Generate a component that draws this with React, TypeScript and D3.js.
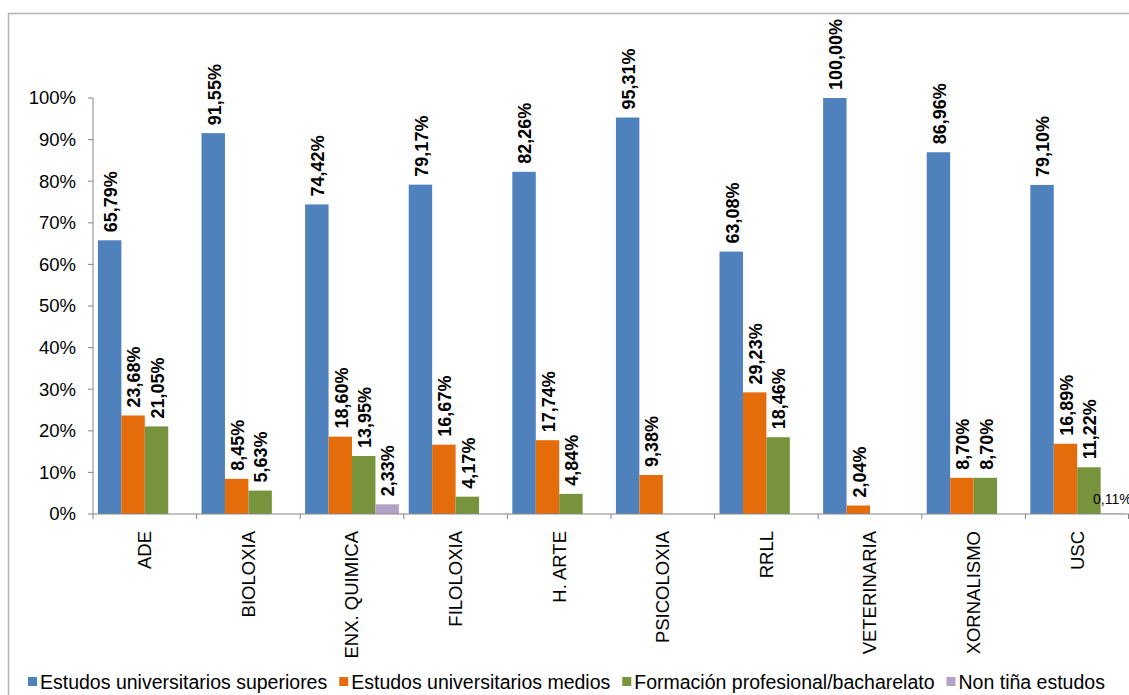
import React, { useEffect, useRef } from "react";
import * as d3 from "d3";

const categories = ["ADE", "BIOLOXIA", "ENX. QUIMICA", "FILOLOXIA", "H. ARTE", "PSICOLOXIA", "RRLL", "VETERINARIA", "XORNALISMO", "USC"];
const seriesNames = ["Estudos universitarios superiores", "Estudos universitarios medios", "Formación profesional/bacharelato", "Non tiña estudos"];
const superiores = [65.79, 91.55, 74.42, 79.17, 82.26, 95.31, 63.08, 100.0, 86.96, 79.1];
const medios = [23.68, 8.45, 18.6, 16.67, 17.74, 9.38, 29.23, 2.04, 8.7, 16.89];
const formacion = [21.05, 5.63, 13.95, 4.17, 4.84, 0, 18.46, 0, 8.7, 11.22];
const nonEstudos = [0, 0, 2.33, 0, 0, 0, 0, 0, 0, 0.11];
const yTicks = [0, 10, 20, 30, 40, 50, 60, 70, 80, 90, 100];
const colors = ["#4F81BD", "#E46C0A", "#77933C", "#B3A2C7"];

const W = 1129, H = 695;
const FONT = "'Liberation Sans', Arial, sans-serif";

export default function App() {
  const ref = useRef<SVGSVGElement>(null);
  useEffect(() => {
    const svg = d3.select(ref.current);
    svg.selectAll("*").remove();
    const series = [superiores, medios, formacion, nonEstudos];

    svg.append("rect").attr("x", 8.5).attr("y", 13.5).attr("width", 1200).attr("height", 800)
      .attr("fill", "white").attr("stroke", "#B5B5B5").attr("stroke-width", 1.5);

    const x = d3.scaleBand().domain(categories).range([93, 1129]).paddingInner(0).paddingOuter(0);
    const y = d3.scaleLinear().domain([0, 100]).range([514, 98]);
    const inner = d3.scaleBand().domain(["0", "1", "2", "3"]).range([0, x.bandwidth()]).paddingOuter(0.21).paddingInner(0);

    const g = svg.append("g");
    g.append("line").attr("x1", 93).attr("x2", 93).attr("y1", y(100)).attr("y2", y(0)).attr("stroke", "#868686");
    yTicks.forEach(t => {
      g.append("line").attr("x1", 88).attr("x2", 93).attr("y1", y(t)).attr("y2", y(t)).attr("stroke", "#868686");
      g.append("text").attr("x", 76).attr("y", y(t)).attr("dy", "0.35em").attr("text-anchor", "end")
        .attr("font-family", FONT).attr("font-size", 18.5).attr("fill", "#000").text(`${t}%`);
    });

    series.forEach((vals, si) => {
      categories.forEach((c, ci) => {
        const v = vals[ci];
        if (v <= 0) return;
        const bx = (x(c) as number) + (inner(String(si)) as number);
        g.append("rect").attr("x", bx).attr("y", y(v)).attr("width", inner.bandwidth()).attr("height", y(0) - y(v))
          .attr("fill", colors[si]);
      });
    });

    g.append("line").attr("x1", 93).attr("x2", 1129).attr("y1", y(0)).attr("y2", y(0)).attr("stroke", "#868686");
    categories.forEach((c, ci) => {
      const bx = x(c) as number;
      g.append("line").attr("x1", bx).attr("x2", bx).attr("y1", y(0)).attr("y2", y(0) + 5).attr("stroke", "#868686");
      g.append("text").attr("transform", `translate(${bx + x.bandwidth() / 2},531) rotate(-90)`)
        .attr("dy", "0.35em").attr("text-anchor", "end").attr("font-family", FONT).attr("font-size", 18.5)
        .attr("fill", "#000").text(c);
    });
    g.append("line").attr("x1", 1128.5).attr("x2", 1128.5).attr("y1", y(0)).attr("y2", y(0) + 5).attr("stroke", "#868686");

    series.forEach((vals, si) => {
      categories.forEach((c, ci) => {
        const v = vals[ci];
        if (v <= 0) return;
        const cx = (x(c) as number) + (inner(String(si)) as number) + inner.bandwidth() / 2;
        const txt = d3.format(".2f")(v).replace(".", ",") + "%";
        if (v < 1) {
          g.append("text").attr("x", cx).attr("y", y(v) - 10).attr("text-anchor", "middle")
            .attr("font-family", FONT).attr("font-size", 14).attr("fill", "#000").text(txt);
        } else {
          g.append("text").attr("transform", `translate(${cx + 1},${y(v) - 8}) rotate(-90)`)
            .attr("dy", "0.35em").attr("text-anchor", "start").attr("font-family", FONT)
            .attr("font-size", 18).attr("font-weight", "bold").attr("fill", "#000").text(txt);
        }
      });
    });

    let lx = 28;
    seriesNames.forEach((n, i) => {
      svg.append("rect").attr("x", lx).attr("y", 677).attr("width", 9).attr("height", 9).attr("fill", colors[i]);
      const t = svg.append("text").attr("x", lx + 12).attr("y", 689).attr("font-family", FONT)
        .attr("font-size", 19.5).attr("fill", "#000").text(n);
      const w = (t.node() as SVGTextElement).getComputedTextLength();
      lx += 12 + w + 12;
    });
  }, []);
  return (
    <svg ref={ref} width={W} height={H} style={{ position: "absolute", left: 0, top: 0, background: "white" }} />
  );
}
